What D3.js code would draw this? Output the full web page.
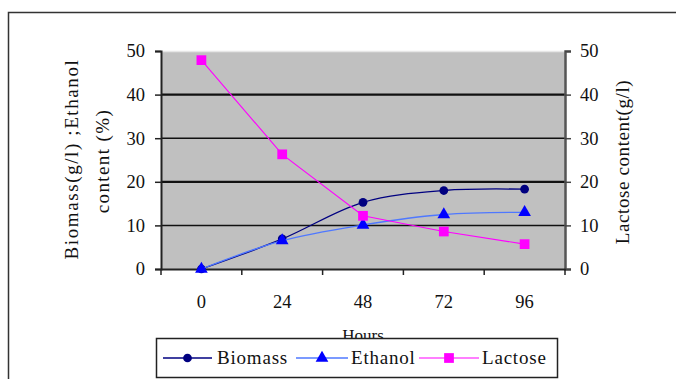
<!DOCTYPE html>
<html>
<head>
<meta charset="utf-8">
<script src="https://cdn.jsdelivr.net/npm/d3@7"></script>
<style>
  html, body { margin: 0; padding: 0; background: #fff; }
  svg { display: block; }
  text { font-family: "Liberation Serif", "Times New Roman", serif; fill: #111; }
</style>
</head>
<body>
<svg id="chart" width="676" height="379"></svg>
<script>
const hours = ["0", "24", "48", "72", "96"];
const biomass = [0, 6.9, 15.3, 18.0, 18.3];
const ethanol = [0, 6.5, 10.1, 12.5, 13.0];
const lactose = [47.9, 26.3, 12.2, 8.6, 5.7];
const yTicks = [0, 10, 20, 30, 40, 50];
const seriesNames = ["Biomass", "Ethanol", "Lactose"];

const svg = d3.select("#chart");
const pLeft = 161, pRight = 565, pTop = 51, pBottom = 269;

// outer frame
svg.append("rect").attr("x", 8.5).attr("y", 12.5).attr("width", 700).attr("height", 400)
  .attr("fill", "#fff").attr("stroke", "#333").attr("stroke-width", 1.5);

const x = d3.scaleBand().domain(hours).range([pLeft, pRight]);
const y = d3.scaleLinear().domain([0, 50]).range([pBottom, pTop]);
const y2 = d3.scaleLinear().domain([0, 50]).range([pBottom, pTop]);
const cx = h => x(h) + x.bandwidth() / 2;

// plot area
svg.append("rect").attr("x", pLeft).attr("y", pTop).attr("width", pRight - pLeft).attr("height", pBottom - pTop)
  .attr("fill", "#c0c0c0");
svg.append("line").attr("x1", pLeft).attr("x2", pRight).attr("y1", pTop + 0.5).attr("y2", pTop + 0.5)
  .attr("stroke", "#e6e6e6").attr("stroke-width", 1.5);

// gridlines
svg.append("g").selectAll("line").data(yTicks.filter(d => d > 0 && d < 50)).join("line")
  .attr("x1", pLeft).attr("x2", pRight)
  .attr("y1", d => y(d)).attr("y2", d => y(d))
  .attr("stroke", "#111").attr("stroke-width", d => (d === 20 || d === 40) ? 2.2 : 1.5);

// left axis
const gl = svg.append("g").attr("transform", `translate(${pLeft},0)`)
  .call(d3.axisLeft(y).tickValues(yTicks).tickSize(6).tickPadding(10));
gl.select(".domain").attr("stroke", "#222").attr("stroke-width", 2);
gl.selectAll(".tick line").attr("stroke", "#222").attr("stroke-width", 1.5);
gl.selectAll("text").style("font-size", "18.5px").attr("fill", "#222")
  .style("font-family", "'Liberation Serif', serif");

// right axis
const gr = svg.append("g").attr("transform", `translate(${pRight},0)`)
  .call(d3.axisRight(y2).tickValues(yTicks).tickSize(6).tickPadding(9));
gr.select(".domain").attr("stroke", "#555").attr("stroke-width", 2.5);
gr.selectAll(".tick line").attr("stroke", "#444").attr("stroke-width", 1.5);
gr.selectAll("text").style("font-size", "18.5px").attr("fill", "#222")
  .style("font-family", "'Liberation Serif', serif");

// bottom axis
const gb = svg.append("g").attr("transform", `translate(0,${pBottom})`)
  .call(d3.axisBottom(x).tickSize(0).tickPadding(26));
gb.select(".domain").attr("stroke", "#222").attr("stroke-width", 2);
gb.selectAll("text").style("font-size", "18.5px").attr("fill", "#222")
  .style("font-family", "'Liberation Serif', serif");
const bounds = hours.map(h => x(h)).concat([pRight]);
svg.append("g").selectAll("line").data(bounds).join("line")
  .attr("x1", d => d).attr("x2", d => d).attr("y1", pBottom).attr("y2", pBottom + 6)
  .attr("stroke", "#222").attr("stroke-width", 1.5);

// axis titles
svg.append("text").attr("transform", `translate(78,159) rotate(-90)`)
  .attr("text-anchor", "middle").style("font-size", "19px").style("letter-spacing", "1.6px")
  .text("Biomass(g/l) ;Ethanol");
svg.append("text").attr("transform", `translate(109,161) rotate(-90)`)
  .attr("text-anchor", "middle").style("font-size", "19px").style("letter-spacing", "1.4px")
  .text("content (%)");
svg.append("text").attr("transform", `translate(629,162) rotate(-90)`)
  .attr("text-anchor", "middle").style("font-size", "19px").style("letter-spacing", "0.6px")
  .text("Lactose content(g/l)");
svg.append("text").attr("x", 363).attr("y", 341).attr("text-anchor", "middle")
  .style("font-size", "17px").text("Hours");

// series
const styles = {
  Biomass: { line: "#000080", marker: "#000080", width: 1.3, curve: d3.curveCatmullRom.alpha(0.5), shape: "circle" },
  Ethanol: { line: "#4f78ff", marker: "#0000ff", width: 1.3, curve: d3.curveCatmullRom.alpha(0.5), shape: "triangle" },
  Lactose: { line: "#ff00ff", marker: "#ff00ff", width: 1.1, curve: d3.curveLinear, shape: "square" }
};
const dataMap = { Biomass: biomass, Ethanol: ethanol, Lactose: lactose };
const symbolOf = s => s === "circle" ? d3.symbolCircle : s === "triangle" ? d3.symbolTriangle : d3.symbolSquare;
const sizeOf = s => s === "circle" ? 60 : s === "triangle" ? 70 : 95;

seriesNames.forEach(name => {
  const st = styles[name];
  const scale = name === "Lactose" ? y2 : y;
  const vals = dataMap[name];
  const pts = hours.map((h, i) => [cx(h), scale(vals[i])]);
  svg.append("path").attr("d", d3.line().curve(st.curve)(pts))
    .attr("fill", "none").attr("stroke", st.line).attr("stroke-width", st.width);
  svg.append("g").selectAll("path").data(pts).join("path")
    .attr("transform", d => `translate(${d[0]},${d[1]})`)
    .attr("d", d3.symbol().type(symbolOf(st.shape)).size(sizeOf(st.shape)))
    .attr("fill", st.marker);
});

// legend
svg.append("rect").attr("x", 156.5).attr("y", 338.5).attr("width", 401).attr("height", 39)
  .attr("fill", "#fff").attr("stroke", "#222").attr("stroke-width", 1.5);
const legendItems = [
  { name: "Biomass", x1: 163, x2: 212, tx: 217 },
  { name: "Ethanol", x1: 296, x2: 348, tx: 351 },
  { name: "Lactose", x1: 419, x2: 479, tx: 482 }
];
const ly = 358;
legendItems.forEach(it => {
  const st = styles[it.name];
  svg.append("line").attr("x1", it.x1).attr("x2", it.x2).attr("y1", ly).attr("y2", ly)
    .attr("stroke", st.line).attr("stroke-width", st.width);
  svg.append("path").attr("transform", `translate(${(it.x1 + it.x2) / 2},${ly})`)
    .attr("d", d3.symbol().type(symbolOf(st.shape)).size(sizeOf(st.shape)))
    .attr("fill", st.marker);
  svg.append("text").attr("x", it.tx).attr("y", ly + 6).style("font-size", "19px")
    .style("letter-spacing", "0.8px").text(it.name);
});
</script>
</body>
</html>
